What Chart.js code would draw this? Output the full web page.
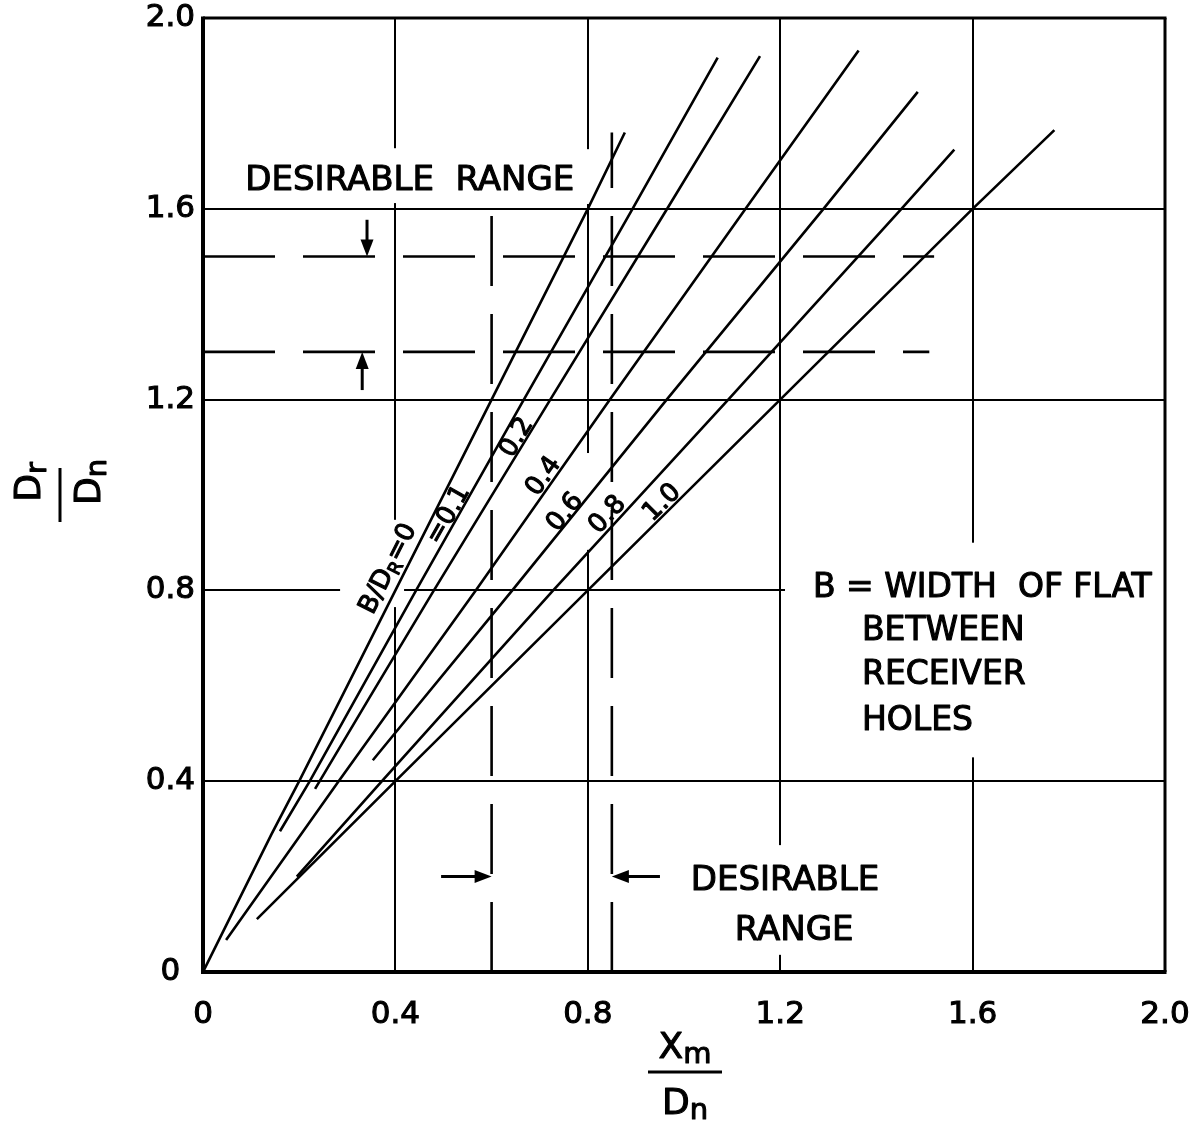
<!DOCTYPE html>
<html>
<head>
<meta charset="utf-8">
<title>Dr/Dn versus Xm/Dn</title>
<script src="https://cdn.jsdelivr.net/npm/chart.js@4.4.1/dist/chart.umd.min.js"></script>
<style>
html,body{margin:0;padding:0;background:#ffffff;}
#wrap{position:relative;width:1201px;height:1132px;}
canvas{display:block;}
</style>
</head>
<body>
<div id="wrap"><canvas id="chart" width="1201" height="1132"></canvas></div>
<script>
// ---------------- data ----------------
// curve names: B/D_R ratio of each line
const ratioNames = ['B/DR=0', '=0.1', '0.2', '0.4', '0.6', '0.8', '1.0'];
// points [Xm/Dn, Dr/Dn]
const seriesR00 = [[0, 0], [0.143, 0.29], [0.2, 0.4], [0.4, 0.8], [0.6, 1.2], [0.8, 1.6], [0.877, 1.76]];
const seriesR01 = [[0.16, 0.295], [0.222, 0.4], [0.443, 0.8], [0.667, 1.2], [0.893, 1.6], [1.07, 1.917]];
const seriesR02 = [[0.233, 0.384], [0.343, 0.57], [0.48, 0.8], [0.722, 1.2], [0.965, 1.6], [1.158, 1.92]];
const seriesR04 = [[0.048, 0.067], [0.282, 0.4], [0.567, 0.8], [0.846, 1.2], [1.128, 1.6], [1.363, 1.932]];
const seriesR06 = [[0.353, 0.444], [0.643, 0.8], [0.964, 1.2], [1.29, 1.6], [1.486, 1.845]];
const seriesR08 = [[0.195, 0.2], [0.372, 0.4], [0.728, 0.8], [1.092, 1.2], [1.452, 1.6], [1.562, 1.724]];
const seriesR10 = [[0.112, 0.111], [0.4, 0.4], [0.8, 0.8], [1.2, 1.2], [1.6, 1.6], [1.77, 1.765]];
const allSeries = [seriesR00, seriesR01, seriesR02, seriesR04, seriesR06, seriesR08, seriesR10];

// desirable range of Dr/Dn (dashed horizontals) and how far they run in Xm/Dn
const rangeDr = [1.5, 1.3];
const rangeDrEndX = [1.52, 1.51];
// desirable range of Xm/Dn (dashed verticals) and how high they run in Dr/Dn
const rangeXm = [0.6, 0.85];
const rangeXmEndY = [1.61, 1.76];

// tick values and labels
const xTickValues = [0, 0.4, 0.8, 1.2, 1.6, 2.0];
const xTickLabels = ['0', '0.4', '0.8', '1.2', '1.6', '2.0'];
const yTickValues = [0, 0.4, 0.8, 1.2, 1.6, 2.0];
const yTickLabels = ['0', '0.4', '0.8', '1.2', '1.6', '2.0'];

// ---------------- annotation layout (positions in data units) ----------------
const FONT = '"DejaVu Sans", "Liberation Sans", sans-serif';
const EMBOLDEN = 1.1;

// where each curve name sits along its curve (Dr/Dn value) and offset from line in px
const curveLabelAt = [0.83, 0.949, 1.111, 1.027, 0.953, 0.943, 0.969];
const curveLabelOff = [9, 2, 2, 3, 1, 4, 3];

// gaps erased in the grid lines around lettering
const gridGaps = [
  {axis: 'x', at: 0.4, from: 1.612, to: 1.727},
  {axis: 'x', at: 0.4, from: 0.765, to: 0.948},
  {axis: 'x', at: 0.8, from: 1.61, to: 1.725},
  {axis: 'x', at: 0.8, from: 0.885, to: 1.088},
  {axis: 'x', at: 1.2, from: 0.036, to: 0.266},
  {axis: 'x', at: 1.6, from: 0.45, to: 0.9},
  {axis: 'y', at: 0.8, from: 0.285, to: 0.418},
  {axis: 'y', at: 0.8, from: 1.21, to: 2.0}
];

// arrows marking the desirable ranges
const arrowsV = [{x: 0.341, from: 1.577, to: 1.5}, {x: 0.331, from: 1.22, to: 1.3}];
const arrowsH = [{y: 0.2, from: 0.495, to: 0.6}, {y: 0.2, from: 0.95, to: 0.85}];

// free text
const textNotes = [
  {text: 'DESIRABLE  RANGE', x: 0.43, y: 1.640, align: 'center', size: 34},
  {text: 'DESIRABLE', x: 1.21, y: 0.172, align: 'center', size: 34},
  {text: 'RANGE', x: 1.229, y: 0.067, align: 'center', size: 34},
  {text: 'B = WIDTH  OF FLAT', x: 1.268, y: 0.786, align: 'left', size: 33},
  {text: 'BETWEEN', x: 1.370, y: 0.696, align: 'left', size: 33},
  {text: 'RECEIVER', x: 1.370, y: 0.604, align: 'left', size: 33},
  {text: 'HOLES', x: 1.370, y: 0.507, align: 'left', size: 33}
];

// ---------------- datasets ----------------
const toXY = arr => arr.map(p => ({x: p[0], y: p[1]}));
const datasets = [];
allSeries.forEach((s, i) => {
  datasets.push({
    label: ratioNames[i], data: toXY(s), showLine: true,
    borderColor: '#000', borderWidth: 2.6, pointRadius: 0, tension: 0, fill: false
  });
});
rangeDr.forEach((v, i) => {
  datasets.push({
    label: 'range Dr ' + v, data: [{x: 0, y: v}, {x: rangeDrEndX[i], y: v}], showLine: true,
    borderColor: '#000', borderWidth: 2.6, borderDash: [72, 28], pointRadius: 0
  });
});
rangeXm.forEach((v, i) => {
  datasets.push({
    label: 'range Xm ' + v, data: [{x: v, y: 0}, {x: v, y: rangeXmEndY[i]}], showLine: true,
    borderColor: '#000', borderWidth: 2.6, borderDash: [70, 28], pointRadius: 0
  });
});

// ---------------- drawing helpers ----------------
function boldText(ctx, s, x, y) {
  ctx.fillText(s, x, y);
  ctx.lineWidth = EMBOLDEN;
  ctx.lineJoin = 'round';
  ctx.strokeText(s, x, y);
}

function drawParts(ctx, parts, baseSize, yBase) {
  let total = 0;
  parts.forEach(p => { ctx.font = (p.size || baseSize) + 'px ' + FONT; p.w = ctx.measureText(p.t).width; total += p.w; });
  let x = -total / 2;
  ctx.textAlign = 'left';
  parts.forEach(p => {
    ctx.font = (p.size || baseSize) + 'px ' + FONT;
    boldText(ctx, p.t, x, yBase + (p.dy || 0));
    x += p.w;
  });
}

function drawArrowHead(ctx, x, y, dx, dy, len, half) {
  const n = Math.hypot(dx, dy); const ux = dx / n, uy = dy / n;
  ctx.beginPath();
  ctx.moveTo(x, y);
  ctx.lineTo(x - ux * len - uy * half, y - uy * len + ux * half);
  ctx.lineTo(x - ux * len + uy * half, y - uy * len - ux * half);
  ctx.closePath();
  ctx.fill();
}

const annotPlugin = {
  id: 'annot',
  beforeDatasetsDraw(chart) {
    const {ctx, scales: {x, y}} = chart;
    ctx.save();
    ctx.fillStyle = '#ffffff';
    gridGaps.forEach(g => {
      if (g.axis === 'x') {
        const px = x.getPixelForValue(g.at);
        const y1 = y.getPixelForValue(g.to), y2 = y.getPixelForValue(g.from);
        ctx.fillRect(px - 5, y1, 10, y2 - y1);
      } else {
        const py = y.getPixelForValue(g.at);
        const x1 = x.getPixelForValue(g.from), x2 = x.getPixelForValue(g.to);
        ctx.fillRect(x1, py - 5, x2 - x1, 10);
      }
    });
    ctx.restore();
  },
  afterDatasetsDraw(chart) {
    const {ctx, scales: {x, y}} = chart;
    ctx.save();
    ctx.fillStyle = '#000';
    ctx.strokeStyle = '#000';
    // arrows
    arrowsV.forEach(a => {
      const px = x.getPixelForValue(a.x), p1 = y.getPixelForValue(a.from), p2 = y.getPixelForValue(a.to);
      const dir = Math.sign(p2 - p1);
      ctx.lineWidth = 3;
      ctx.beginPath(); ctx.moveTo(px, p1); ctx.lineTo(px, p2 - dir * 10); ctx.stroke();
      drawArrowHead(ctx, px, p2, 0, p2 - p1, 17, 6.5);
    });
    arrowsH.forEach(a => {
      const py = y.getPixelForValue(a.y), p1 = x.getPixelForValue(a.from), p2 = x.getPixelForValue(a.to);
      const dir = Math.sign(p2 - p1);
      ctx.lineWidth = 3;
      ctx.beginPath(); ctx.moveTo(p1, py); ctx.lineTo(p2 - dir * 10, py); ctx.stroke();
      drawArrowHead(ctx, p2, py, p2 - p1, 0, 17, 6.5);
    });
    // free text
    ctx.textBaseline = 'alphabetic';
    textNotes.forEach(t => {
      ctx.font = t.size + 'px ' + FONT;
      ctx.textAlign = t.align;
      boldText(ctx, t.text, x.getPixelForValue(t.x), y.getPixelForValue(t.y));
    });
    // curve labels along each line
    allSeries.forEach((pts, i) => {
      const at = curveLabelAt[i];
      let k = 0;
      while (k < pts.length - 2 && pts[k + 1][1] < at) k++;
      const [x0, y0] = pts[k], [x1, y1] = pts[k + 1];
      const t = (at - y0) / (y1 - y0);
      const px = x.getPixelForValue(x0 + t * (x1 - x0)), py = y.getPixelForValue(at);
      const ang = Math.atan2(y.getPixelForValue(y1) - y.getPixelForValue(y0),
                             x.getPixelForValue(x1) - x.getPixelForValue(x0));
      ctx.save();
      ctx.translate(px, py);
      ctx.rotate(ang);
      let parts;
      if (i === 0) parts = [{t: 'B/D'}, {t: 'R', size: 18, dy: 5}, {t: '=0'}];
      else parts = [{t: ratioNames[i]}];
      drawParts(ctx, parts, 26, -curveLabelOff[i]);
      ctx.restore();
    });
    ctx.restore();
  },
  afterDraw(chart) {
    const {ctx, chartArea: {left, right, top, bottom}} = chart;
    ctx.save();
    ctx.strokeStyle = '#000';
    ctx.fillStyle = '#000';
    // frame
    ctx.lineWidth = 3;
    ctx.beginPath(); ctx.moveTo(left, top); ctx.lineTo(right + 1.5, top); ctx.stroke();
    ctx.beginPath(); ctx.moveTo(right, top); ctx.lineTo(right, bottom); ctx.stroke();
    ctx.lineWidth = 4;
    ctx.beginPath(); ctx.moveTo(left, top - 1.5); ctx.lineTo(left, bottom + 2); ctx.stroke();
    ctx.beginPath(); ctx.moveTo(left - 2, bottom); ctx.lineTo(right + 1.5, bottom); ctx.stroke();

    // x axis title: Xm / Dn
    ctx.textBaseline = 'alphabetic';
    const cx = 685;
    ctx.save();
    ctx.translate(cx, 0);
    drawParts(ctx, [{t: 'X'}, {t: 'm', size: 29, dy: 5}], 36, 1058);
    drawParts(ctx, [{t: 'D'}, {t: 'n', size: 29, dy: 5}], 36, 1114);
    ctx.restore();
    ctx.lineWidth = 3;
    ctx.beginPath(); ctx.moveTo(648, 1072); ctx.lineTo(722, 1072); ctx.stroke();

    // y axis title: Dr / Dn (rotated)
    ctx.save();
    ctx.translate(60, 492);
    ctx.rotate(-Math.PI / 2);
    ctx.save(); ctx.translate(10, 0);
    drawParts(ctx, [{t: 'D'}, {t: 'r', size: 29, dy: 6}], 36, -20);
    drawParts(ctx, [{t: 'D'}, {t: 'n', size: 29, dy: 6}], 36, 40);
    ctx.restore();
    ctx.lineWidth = 3;
    ctx.beginPath(); ctx.moveTo(-30, 0); ctx.lineTo(24, 0); ctx.stroke();
    ctx.restore();
    ctx.restore();
  }
};

// ---------------- chart ----------------
new Chart(document.getElementById('chart'), {
  type: 'scatter',
  data: {datasets},
  options: {
    responsive: false,
    animation: false,
    devicePixelRatio: 1,
    layout: {padding: {left: 0, right: 36, top: 18, bottom: 0}},
    plugins: {legend: {display: false}, tooltip: {enabled: false}, title: {display: false}},
    scales: {
      x: {
        type: 'linear', min: 0, max: 2,
        afterBuildTicks: s => { s.ticks = xTickValues.map(v => ({value: v})); },
        ticks: {
          callback: (v, i) => xTickLabels[i],
          font: {family: FONT, size: 31, lineHeight: 1},
          color: '#000', textStrokeColor: '#000', textStrokeWidth: 1.1,
          padding: 27, maxRotation: 0, minRotation: 0, autoSkip: false
        },
        grid: {color: '#000', lineWidth: 2, drawTicks: false},
        border: {display: false},
        title: {display: false},
        afterFit: s => { s.height = 160; s.paddingLeft = 0; s.paddingRight = 0; }
      },
      y: {
        type: 'linear', min: 0, max: 2,
        afterBuildTicks: s => { s.ticks = yTickValues.map(v => ({value: v})); },
        ticks: {
          callback: (v, i) => yTickLabels[i],
          font: {family: FONT, size: 31, lineHeight: 1},
          color: '#000', textStrokeColor: '#000', textStrokeWidth: 1.1,
          padding: 8, crossAlign: 'center', autoSkip: false
        },
        grid: {color: '#000', lineWidth: 2, drawTicks: false},
        border: {display: false},
        title: {display: false},
        afterFit: s => { s.width = 203; s.paddingTop = 0; s.paddingBottom = 0; }
      }
    }
  },
  plugins: [annotPlugin]
});
</script>
</body>
</html>
